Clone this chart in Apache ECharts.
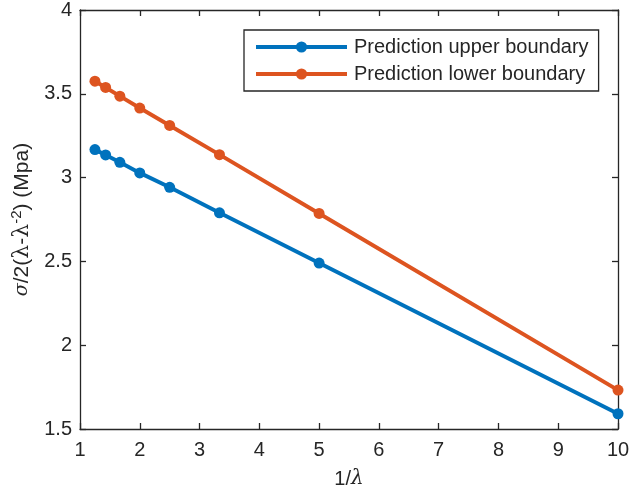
<!DOCTYPE html>
<html>
<head>
<meta charset="utf-8">
<script src="https://cdn.jsdelivr.net/npm/echarts@6/dist/echarts.min.js"></script>
<style>
  html, body { margin: 0; padding: 0; background: #fff; }
  #chart { width: 640px; height: 494px; }
</style>
</head>
<body>
<div id="chart"></div>
<script>
const invLambda = [1.25, 1.4286, 1.6667, 2, 2.5, 3.3333, 5, 10]
const upper = [3.167, 3.135, 3.091, 3.028, 2.942, 2.790, 2.490, 1.591]
const lower = [3.575, 3.538, 3.486, 3.415, 3.311, 3.137, 2.786, 1.732]
const seriesNames = ['Prediction upper boundary', 'Prediction lower boundary']
const colors = ['#0072BD', '#DD5420']

const chart = echarts.init(document.getElementById('chart'))

const axisColor = '#262626'
const font = 'Liberation Sans, Arial, sans-serif'
const serif = 'DejaVu Serif, serif'

const baseAxis = {
  axisLine: { show: true, onZero: false, lineStyle: { color: axisColor, width: 1.3 } },
  axisTick: { show: true, inside: true, length: 6, lineStyle: { color: axisColor, width: 1.3 } },
  splitLine: { show: false }
}

const option = {
  backgroundColor: '#fff',
  textStyle: { fontFamily: font },
  grid: { left: 80, top: 10, right: 22, bottom: 64 },
  legend: {
    orient: 'vertical',
    left: 244,
    top: 30,
    padding: [7, 10, 7, 10],
    itemGap: 7,
    itemWidth: 91,
    itemHeight: 14,
    borderColor: axisColor,
    borderWidth: 1.3,
    backgroundColor: '#fff',
    lineStyle: { width: 4 },
    textStyle: { color: axisColor, fontSize: 20, fontFamily: font, padding: [0, 0, 0, 2] },
    data: seriesNames
  },
  xAxis: [
    {
      ...baseAxis,
      type: 'value',
      min: 1,
      max: 10,
      interval: 1,
      position: 'bottom',
      name: '1/{l|λ}',
      nameLocation: 'middle',
      nameGap: 40,
      nameTextStyle: {
        color: axisColor,
        fontSize: 20,
        fontFamily: font,
        rich: { l: { fontFamily: serif, fontStyle: 'italic', fontSize: 20, color: axisColor } }
      },
      axisLabel: { color: axisColor, fontSize: 20, margin: 11 }
    },
    {
      ...baseAxis,
      type: 'value',
      min: 1,
      max: 10,
      interval: 1,
      position: 'top',
      axisLabel: { show: false }
    }
  ],
  yAxis: [
    {
      ...baseAxis,
      type: 'value',
      min: 1.5,
      max: 4,
      interval: 0.5,
      position: 'left',
      name: '{i|σ}/2({l|λ}-{l|λ}{s|-2}) (Mpa)',
      nameLocation: 'middle',
      nameGap: 38,
      nameTextStyle: {
        color: axisColor,
        fontSize: 21,
        fontFamily: font,
        rich: {
          i: { fontStyle: 'italic', fontSize: 19, color: axisColor, fontFamily: serif },
          l: { fontSize: 22, color: axisColor, fontFamily: serif },
          s: { fontSize: 15, color: axisColor, verticalAlign: 'top', padding: [0, 0, 10, 0] }
        }
      },
      axisLabel: { color: axisColor, fontSize: 20, margin: 8 }
    },
    {
      ...baseAxis,
      type: 'value',
      min: 1.5,
      max: 4,
      interval: 0.5,
      position: 'right',
      axisLabel: { show: false }
    }
  ],
  series: [
    {
      name: seriesNames[0],
      type: 'line',
      data: invLambda.map((x, i) => [x, upper[i]]),
      symbol: 'circle',
      symbolSize: 11,
      lineStyle: { width: 4, color: colors[0] },
      itemStyle: { color: colors[0] },
      z: 3
    },
    {
      name: seriesNames[1],
      type: 'line',
      data: invLambda.map((x, i) => [x, lower[i]]),
      symbol: 'circle',
      symbolSize: 11,
      lineStyle: { width: 4, color: colors[1] },
      itemStyle: { color: colors[1] },
      z: 3
    }
  ]
}

chart.setOption(option)
</script>
</body>
</html>
